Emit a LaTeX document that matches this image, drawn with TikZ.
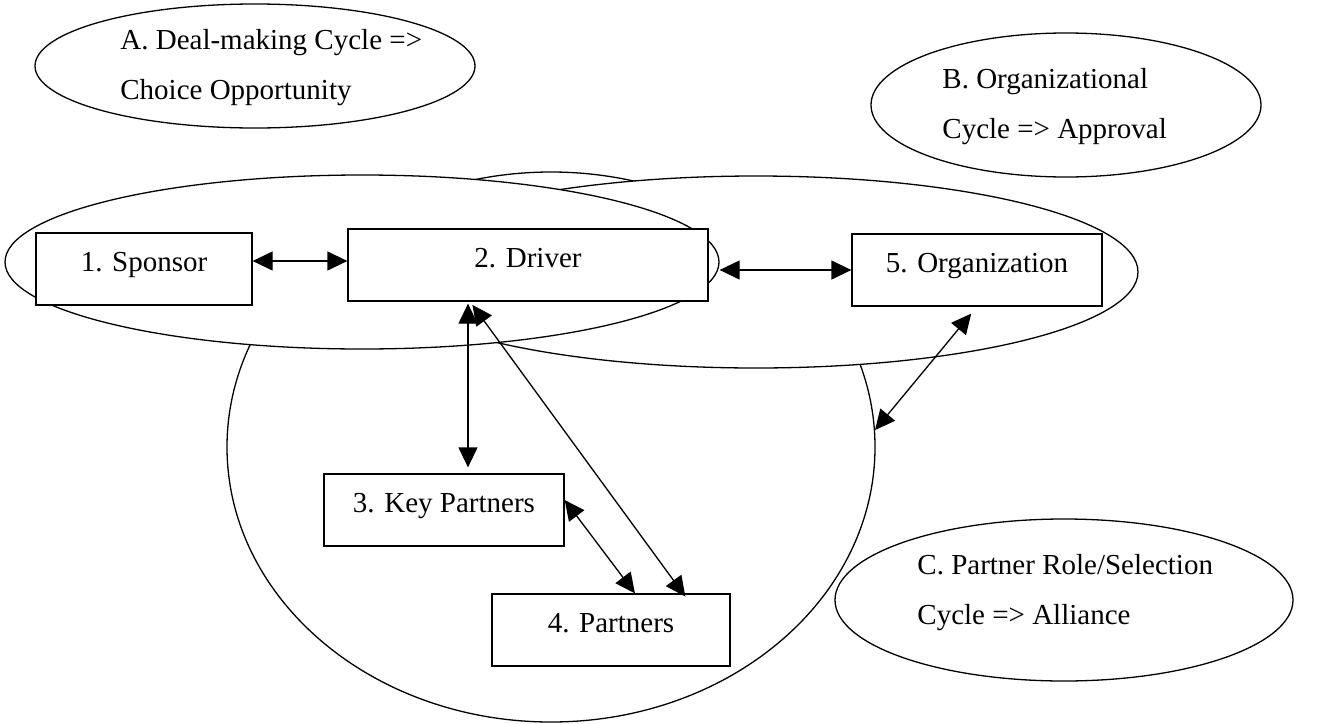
\documentclass[tikz,border=0pt]{standalone}
\usepackage{fontspec}
\setmainfont{Liberation Serif}
\usetikzlibrary{shapes.geometric,arrows.meta}
\tikzset{
	cyc/.style={draw, ellipse, fill=white, inner sep=0pt, line width=0.65pt},
	box/.style={draw, rectangle, fill=white, inner sep=0pt, line width=0.65pt, minimum height=36pt, text height=0.7em, text depth=0.45em},
	lbl/.style={align=left, anchor=west, inner sep=0pt},
	dbl/.style={{Triangle[length=10pt,width=9.5pt]}-{Triangle[length=10pt,width=9.5pt]}, line width=0.65pt}
}
\begin{document}
\begin{tikzpicture}[x=0.5pt,y=-0.5pt,font=\fontsize{14.5pt}{25pt}\selectfont]
		\useasboundingbox (0,0) rectangle (1328,723);
		\node[cyc, minimum width=324pt, minimum height=275pt] (prtcyc) at (551,447) {};
		\node[cyc, minimum width=382pt, minimum height=96pt] (orgcyc) at (756,272) {};
		\node[cyc, minimum width=357pt, minimum height=87pt] (dealcyc) at (362,262) {};

		\node[cyc, minimum width=220pt, minimum height=62pt] (cycA) at (255,66) {};
		\node[cyc, minimum width=195pt, minimum height=72pt] (cycB) at (1066,105) {};
		\node[cyc, minimum width=229pt, minimum height=81pt] (cycC) at (1064,600) {};
		\node[lbl] (txtA) at (120,68) {A. Deal-making Cycle =>\\Choice Opportunity};
		\node[lbl] (txtB) at (942,107) {B. Organizational\\Cycle => Approval};
		\node[lbl] (txtC) at (917,593) {C. Partner Role/Selection\\Cycle => Alliance};

		\node[box, minimum width=108pt] (spon) at (144,269) {1. Sponsor};
		\node[box, minimum width=180pt] (drv) at (528,265) {2. Driver};
		\node[box, minimum width=125pt] (org) at (977,270) {5. Organization};
		\node[box, minimum width=120pt] (keyp) at (444,510) {3. Key Partners};
		\node[box, minimum width=119pt] (prt) at (611,630) {4. Partners};

		\draw[dbl] ([yshift=4pt]spon.east) -- ([yshift=4pt]spon.east -| drv.west);
		\draw[dbl] (org.west -| dealcyc.east) -- (org.west);
		\draw[dbl, shorten <=1pt, shorten >=3pt] ([xshift=12pt]keyp.north |- drv.south) -- ([xshift=12pt]keyp.north);
		\draw[dbl, shorten <=2pt, shorten >=-2pt] ([xshift=-29pt]drv.south) -- ([xshift=36pt]prt.north);
		\draw[dbl] ([yshift=5pt]keyp.east) -- ([xshift=12pt]prt.north);
		\draw[dbl, shorten <=4.5pt] (org.south) -- (prtcyc.3);
\end{tikzpicture}
\end{document}
